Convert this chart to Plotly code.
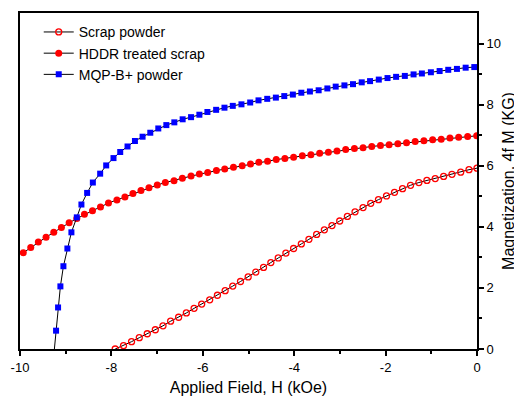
import plotly.graph_objects as go

# Scrap powder (open red circles)
scrap_h = [-7.917, -7.735, -7.559, -7.390, -7.215, -7.039, -6.871, -6.704, -6.529, -6.360,
           -6.191, -6.024, -5.849, -5.680, -5.511, -5.344, -5.175, -5.007, -4.840, -4.671,
           -4.511, -4.349, -4.182, -4.013, -3.844, -3.678, -3.509, -3.340, -3.173, -3.004,
           -2.836, -2.669, -2.493, -2.325, -2.156, -1.980, -1.805, -1.629, -1.454, -1.272,
           -1.096, -0.914, -0.730, -0.548, -0.357, -0.175, 0.0]
scrap_m = [0.0, 0.11, 0.24, 0.37, 0.50, 0.63, 0.76, 0.91, 1.04, 1.18,
           1.33, 1.47, 1.61, 1.76, 1.91, 2.06, 2.21, 2.36, 2.52, 2.67,
           2.83, 2.98, 3.14, 3.29, 3.44, 3.59, 3.75, 3.90, 4.04, 4.19,
           4.34, 4.49, 4.63, 4.77, 4.89, 5.01, 5.13, 5.25, 5.36, 5.45,
           5.52, 5.58, 5.65, 5.72, 5.79, 5.87, 5.92]

# HDDR treated scrap (filled red circles)
hddr_h = [-9.928, -9.765, -9.599, -9.430, -9.261, -9.094, -8.925, -8.757, -8.590, -8.414,
          -8.239, -8.064, -7.879, -7.704, -7.529, -7.353, -7.178, -6.996, -6.820, -6.629,
          -6.447, -6.257, -6.075, -5.893, -5.702, -5.520, -5.329, -5.138, -4.956, -4.774,
          -4.583, -4.393, -4.204, -4.013, -3.822, -3.634, -3.443, -3.252, -3.064, -2.873,
          -2.682, -2.493, -2.303, -2.112, -1.923, -1.732, -1.542, -1.353, -1.162, -0.971,
          -0.783, -0.592, -0.401, -0.204, -0.007]
hddr_m = [3.15, 3.32, 3.50, 3.66, 3.82, 3.98, 4.13, 4.27, 4.41, 4.53,
          4.65, 4.78, 4.88, 4.98, 5.09, 5.19, 5.28, 5.37, 5.45, 5.51,
          5.59, 5.66, 5.73, 5.78, 5.84, 5.89, 5.95, 6.00, 6.06, 6.11,
          6.15, 6.20, 6.24, 6.28, 6.33, 6.36, 6.41, 6.44, 6.48, 6.53,
          6.56, 6.59, 6.63, 6.66, 6.69, 6.72, 6.75, 6.79, 6.82, 6.85,
          6.87, 6.91, 6.93, 6.96, 6.98]

# MQP-B+ powder (blue squares)
mqp_h = [-9.27, -9.211, -9.167, -9.116, -9.050, -8.963, -8.875, -8.757, -8.656, -8.531, -8.406,
         -8.246, -8.114, -7.954, -7.807, -7.647, -7.485, -7.318, -7.149, -6.974, -6.798,
         -6.623, -6.441, -6.257, -6.075, -5.899, -5.708, -5.526, -5.344, -5.154, -4.963,
         -4.781, -4.590, -4.401, -4.217, -4.029, -3.844, -3.656, -3.465, -3.274, -3.092,
         -2.901, -2.713, -2.522, -2.340, -2.149, -1.958, -1.770, -1.579, -1.388, -1.206,
         -1.009, -0.818, -0.629, -0.439, -0.248, -0.059]
mqp_m = [-0.35, 0.60, 1.36, 2.05, 2.71, 3.29, 3.82, 4.31, 4.73, 5.11, 5.45,
         5.74, 6.01, 6.25, 6.45, 6.63, 6.81, 6.95, 7.08, 7.22, 7.33,
         7.42, 7.52, 7.59, 7.67, 7.76, 7.83, 7.90, 7.96, 8.01, 8.07,
         8.14, 8.19, 8.23, 8.28, 8.33, 8.39, 8.43, 8.47, 8.53, 8.59,
         8.63, 8.67, 8.73, 8.77, 8.82, 8.87, 8.91, 8.94, 8.99, 9.02,
         9.06, 9.10, 9.14, 9.17, 9.21, 9.23]

x_ticks = [-10, -8, -6, -4, -2, 0]
y_ticks = [0, 2, 4, 6, 8, 10]

FONT = "Liberation Sans, Arial, sans-serif"

fig = go.Figure()
fig.add_trace(go.Scatter(
    x=scrap_h, y=scrap_m, mode="lines+markers", name="Scrap powder",
    line=dict(color="black", width=1),
    marker=dict(symbol="circle-open", color="red", size=6, line=dict(width=1.3, color="red")),
))
fig.add_trace(go.Scatter(
    x=hddr_h, y=hddr_m, mode="lines+markers", name="HDDR treated scrap",
    line=dict(color="black", width=1),
    marker=dict(symbol="circle", color="red", size=7, line=dict(width=0)),
))
fig.add_trace(go.Scatter(
    x=mqp_h, y=mqp_m, mode="lines+markers", name="MQP-B+ powder",
    line=dict(color="black", width=1),
    marker=dict(symbol="square", color="blue", size=6, line=dict(width=0)),
))

# page body has an 8px default margin, so the figure is sized to fit inside the window
fig.update_layout(
    width=514, height=392,
    margin=dict(l=12, r=45, t=5, b=51, autoexpand=False),
    paper_bgcolor="white", plot_bgcolor="white",
    font=dict(family=FONT, size=13, color="black"),
    showlegend=True,
    legend=dict(x=0.041, y=0.99, xanchor="left", yanchor="top",
                bgcolor="rgba(0,0,0,0)", borderwidth=0,
                font=dict(family=FONT, size=14), tracegroupgap=0,
                itemwidth=30),
)
fig.update_xaxes(
    range=[-10, 0], tickmode="array", tickvals=x_ticks, ticktext=[str(v) for v in x_ticks],
    showgrid=False, zeroline=False, showline=True, linecolor="black", linewidth=2,
    mirror=True, ticks="outside", ticklen=5, tickwidth=1.5, tickcolor="black",
    minor=dict(tickvals=[-9, -7, -5, -3, -1], ticks="outside", ticklen=3, tickwidth=1.5, tickcolor="black"),
    tickfont=dict(size=13), automargin=False,
    title=dict(text="Applied Field, H (kOe)", font=dict(size=16), standoff=8),
)
fig.update_yaxes(
    range=[0, 11], side="right", tickmode="array", tickvals=y_ticks, ticktext=[str(v) for v in y_ticks],
    showgrid=False, zeroline=False, showline=True, linecolor="black", linewidth=2,
    mirror=True, ticks="outside", ticklen=5, tickwidth=1.5, tickcolor="black",
    minor=dict(tickvals=[1, 3, 5, 7, 9], ticks="outside", ticklen=3, tickwidth=1.5, tickcolor="black"),
    tickfont=dict(size=13), automargin=False,
    title=dict(text="Magnetization, 4f M (KG)", font=dict(size=16), standoff=3),
)

fig.write_html("out.html")
